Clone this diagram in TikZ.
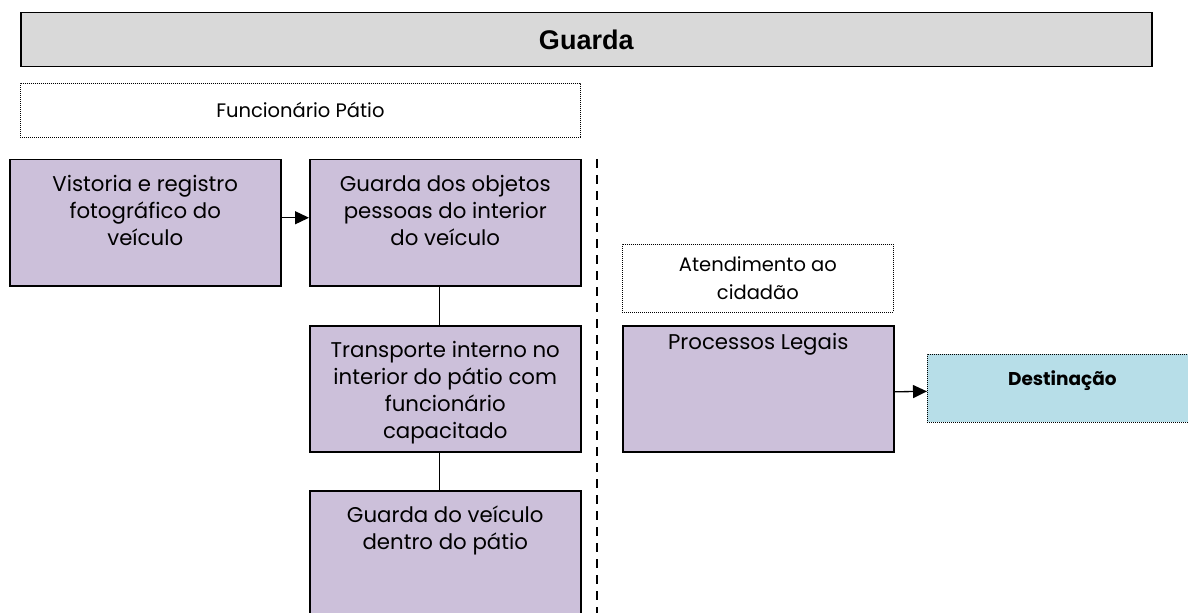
\documentclass[tikz,border=0pt]{standalone}
\usepackage{fontspec}
\setmainfont{Poppins}
\newfontfamily\arialfont{Liberation Sans}
\usetikzlibrary{arrows.meta}
\definecolor{lav}{HTML}{CCC0DA}
\definecolor{lblue}{HTML}{B7DEE8}
\definecolor{tgrey}{HTML}{D9D9D9}
\newcommand\tbox[4]{\parbox[c][#2][t]{#1}{\vspace*{#3}\centering\rule{0pt}{20bp}#4\par}}
\tikzset{
  procbox/.style={draw=black, line width=1.5bp, fill=lav, inner sep=0pt, anchor=north west,
    font=\fontsize{21.3bp}{27bp}\selectfont},
  lanebox/.style={draw=black, line width=0.8bp, dash pattern=on 1bp off 1bp, inner sep=0pt,
    anchor=north west, align=center, font=\fontsize{19.5bp}{28bp}\selectfont},
  titlebox/.style={draw=black, line width=1.5bp, fill=tgrey, inner sep=0pt, anchor=north west,
    font=\arialfont\bfseries\fontsize{27bp}{30bp}\selectfont},
  conn/.style={draw=black, line width=1.3bp},
  arr/.style={conn, -{Triangle[length=14bp,width=13bp]}},
  divider/.style={draw=black, line width=2bp, dash pattern=on 9bp off 7bp}
}
\begin{document}
\begin{tikzpicture}[x=1bp,y=-1bp]
\useasboundingbox (0,0) rectangle (1188,613);
\node[titlebox, minimum width=1131bp, minimum height=54bp] (title) at (20,12) {Guarda};
\node[lanebox, minimum width=560bp, minimum height=54bp] (func) at (20,83) {Funcionário Pátio};
\node[procbox] (box1) at (9,159) {\tbox{271bp}{126bp}{12bp}{Vistoria e registro\\ fotográfico do\\ veículo}};
\node[procbox] (box2) at (309,159) {\tbox{271bp}{126bp}{12bp}{Guarda dos objetos\\ pessoas do interior\\ do veículo}};
\node[procbox] (box3) at (309,325) {\tbox{271bp}{126bp}{12bp}{Transporte interno no\\ interior do pátio com\\ funcionário\\ capacitado}};
\node[procbox] (box4) at (309,490) {\tbox{271bp}{140bp}{12bp}{Guarda do veículo\\ dentro do pátio}};
\node[lanebox, minimum width=271bp, minimum height=68bp] (aten) at (622,244) {Atendimento ao\\ cidadão};
\node[procbox] (proc) at (622,325) {\tbox{271bp}{126bp}{4bp}{Processos Legais}};
\node[procbox, fill=lblue, line width=0.8bp, dash pattern=on 1bp off 1bp,
  font=\bfseries\fontsize{18.5bp}{22bp}\selectfont] (dest) at (927,354)
  {\tbox{270bp}{68bp}{11bp}{Destinação}};
\coordinate (dtop) at (597,159);
\coordinate (dbot) at (597,613);
\draw[divider] (dtop) -- (dbot);
\draw[arr] ([yshift=5bp]box1.east) -- ([yshift=5bp]box2.west);
\draw[conn] ([xshift=-5.5bp]box2.south) -- ([xshift=-5.5bp]box3.north);
\draw[conn] ([xshift=-5.5bp]box3.south) -- ([xshift=-5.5bp]box4.north);
\draw[arr] ([yshift=-3bp]proc.east) -- ([yshift=-3bp]dest.west);
\end{tikzpicture}
\end{document}
